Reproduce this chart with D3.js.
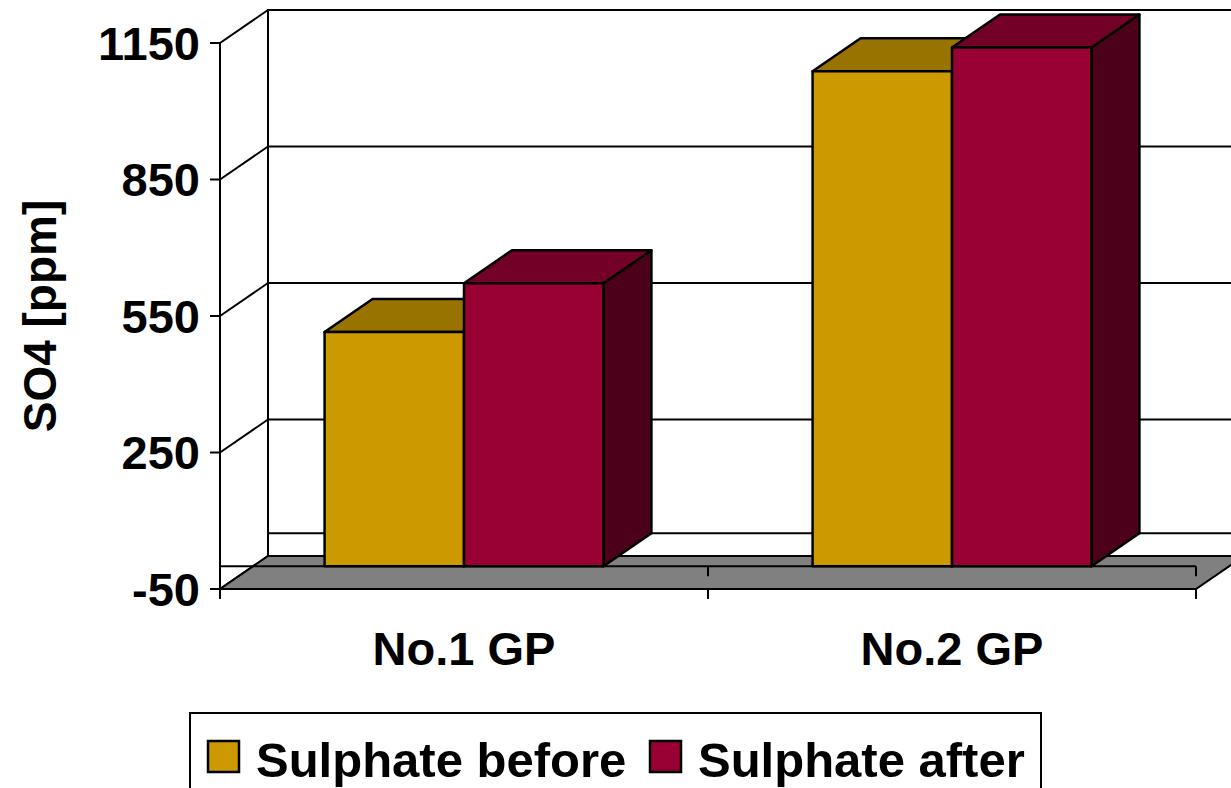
<!DOCTYPE html>
<html>
<head>
<meta charset="utf-8">
<script src="https://cdn.jsdelivr.net/npm/d3@7"></script>
<style>
  body { margin: 0; background: #fff; }
  svg { display: block; font-family: "Liberation Sans", Arial, sans-serif; font-weight: bold; }
</style>
</head>
<body>
<div id="chart"></div>
<script>
const categories = ["No.1 GP", "No.2 GP"];
const seriesNames = ["Sulphate before", "Sulphate after"];
const before = [515, 1088];
const after = [622, 1140];
const yTicks = [-50, 250, 550, 850, 1150];

const colors = {
  "Sulphate before": { front: "#cc9900", top: "#997300", side: "#664d00" },
  "Sulphate after": { front: "#990033", top: "#730026", side: "#4d001a" }
};

const W = 1231, H = 788;
const dx = 48, dy = -33;   // depth offset of the 3d box

const svg = d3.select("#chart").append("svg").attr("width", W).attr("height", H);

const x0 = d3.scaleBand().domain(categories).range([220, 1196])
  .paddingInner(0.4286).paddingOuter(0.2143);
const x1 = d3.scaleBand().domain(seriesNames).range([0, x0.bandwidth()]);
const y = d3.scaleLinear().domain([-50, 1150]).range([589, 43]);

const yMin = y(-50), yMax = y(1150), yZero = y(0);
const left = 220, right = 1196;
const step = x0.step();
const bounds = [left].concat(categories.map((c, i) => left + step * (i + 1)));

const line = (g, a, b, c, d, w) => g.append("line")
  .attr("x1", a).attr("y1", b).attr("x2", c).attr("y2", d)
  .attr("stroke", "#000").attr("stroke-width", w || 2);

// walls
const walls = svg.append("g");
walls.append("polygon")
  .attr("points", [[left, yMax], [left + dx, yMax + dy], [left + dx, yMin + dy], [left, yMin]].join(" "))
  .attr("fill", "#fff");
walls.append("rect")
  .attr("x", left + dx).attr("y", yMax + dy)
  .attr("width", right - left).attr("height", yMin - yMax)
  .attr("fill", "#fff").attr("stroke", "#000").attr("stroke-width", 2);

// gridlines on back and side wall
yTicks.forEach(t => {
  line(walls, left, y(t), left + dx, y(t) + dy);
  line(walls, left + dx, y(t) + dy, right + dx, y(t) + dy);
});
// zero level on back wall
line(walls, left + dx, yZero + dy, right + dx, yZero + dy);

// floor at -50
svg.append("polygon")
  .attr("points", [[left, yMin], [right, yMin], [right + dx, yMin + dy], [left + dx, yMin + dy]].join(" "))
  .attr("fill", "#808080").attr("stroke", "#000").attr("stroke-width", 2);

// category axis at zero, front plane
const cat = svg.append("g");
line(cat, left, yZero, right, yZero);
bounds.slice(1).forEach(b => line(cat, b, yZero, b, yZero + 10));
bounds.forEach(b => line(cat, b, yMin, b, yMin + 10));

// bars
const rows = categories.map((c, i) => ({ cat: c, vals: [before[i], after[i]] }));
const bars = svg.append("g");
rows.forEach(r => {
  r.vals.forEach((v, j) => {
    const s = seriesNames[j];
    const xa = x0(r.cat) + x1(s), xb = xa + x1.bandwidth();
    const yt = y(v), yb = yZero;
    const g = bars.append("g").attr("stroke", "#000").attr("stroke-width", 2.5)
      .attr("stroke-linejoin", "round");
    g.append("polygon")
      .attr("points", [[xb, yt], [xb + dx, yt + dy], [xb + dx, yb + dy], [xb, yb]].join(" "))
      .attr("fill", colors[s].side);
    g.append("polygon")
      .attr("points", [[xa, yt], [xb, yt], [xb + dx, yt + dy], [xa + dx, yt + dy]].join(" "))
      .attr("fill", colors[s].top);
    g.append("rect")
      .attr("x", xa).attr("y", yt).attr("width", xb - xa).attr("height", yb - yt)
      .attr("fill", colors[s].front);
  });
});

// value axis
const ax = svg.append("g");
line(ax, left, yMax, left, yMin + 10);
yTicks.forEach(t => {
  line(ax, left - 10, y(t), left, y(t));
  ax.append("text")
    .attr("x", 200).attr("y", y(t)).attr("dy", "0.36em")
    .attr("text-anchor", "end").attr("font-size", 47)
    .text(t);
});

svg.append("text")
  .attr("transform", "translate(56,316) rotate(-90)")
  .attr("text-anchor", "middle").attr("font-size", 46)
  .text("SO4 [ppm]");

// category labels
categories.forEach(c => {
  svg.append("text")
    .attr("x", x0(c) + x0.bandwidth() / 2).attr("y", 665)
    .attr("text-anchor", "middle").attr("font-size", 47)
    .text(c);
});

// legend
const lg = svg.append("g");
lg.append("rect").attr("x", 190).attr("y", 713).attr("width", 851).attr("height", 90)
  .attr("fill", "#fff").attr("stroke", "#000").attr("stroke-width", 2);
const legendX = [208, 650];
seriesNames.forEach((s, i) => {
  lg.append("rect").attr("x", legendX[i]).attr("y", 741).attr("width", 31).attr("height", 31)
    .attr("fill", colors[s].front).attr("stroke", "#000").attr("stroke-width", 2.5);
  lg.append("text").attr("x", legendX[i] + 48).attr("y", 777)
    .attr("font-size", 49).text(s);
});
</script>
</body>
</html>
